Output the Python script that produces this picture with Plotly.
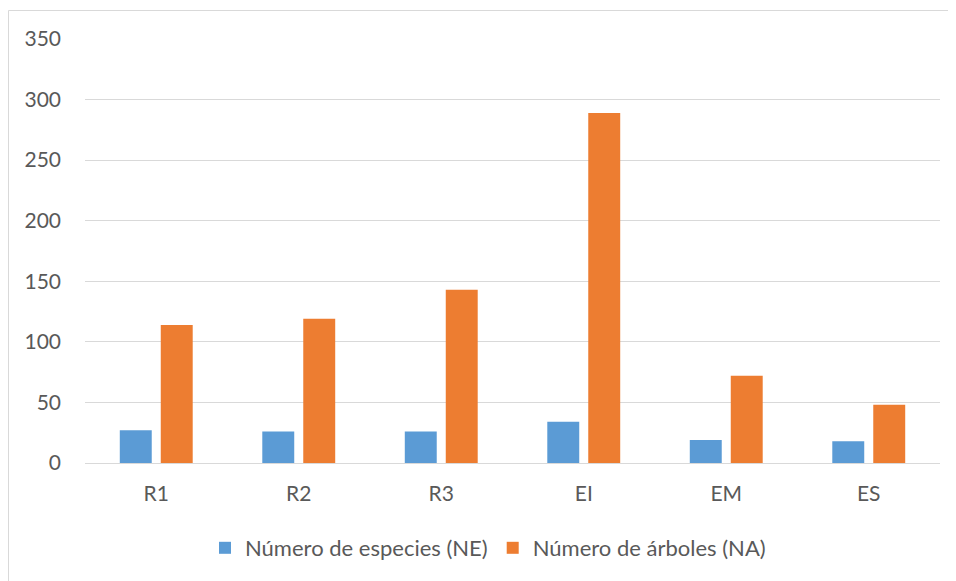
import plotly.graph_objects as go

categories = ["R1", "R2", "R3", "EI", "EM", "ES"]
ne_values = [27, 26, 26, 34, 19, 18]
na_values = [114, 119, 143, 289, 72, 48]
series_names = ["Número de especies (NE)", "Número de árboles (NA)"]
y_ticks = [0, 50, 100, 150, 200, 250, 300, 350]

W, H = 956, 581
OFF = 8  # page body margin
# target screen plot area: x 85..940, y 39..463
L, T = 85 - OFF, 39 - OFF
R, B = W - (940 - OFF), H - (463 - OFF)
pw, ph = W - L - R, H - T - B

def px_x(x):
    return (x - OFF - L) / pw

def px_y(y):
    return (H - B - (y - OFF)) / ph

font_fam = "Lato, 'Open Sans', sans-serif"
gray = "#595959"
fs = 21

fig = go.Figure()
fig.add_trace(go.Bar(x=categories, y=ne_values, name=series_names[0],
                     marker=dict(color="#5b9bd5", line=dict(width=0))))
fig.add_trace(go.Bar(x=categories, y=na_values, name=series_names[1],
                     marker=dict(color="#ed7d31", line=dict(width=0))))

fig.update_layout(
    width=W, height=H,
    margin=dict(l=L, r=R, t=T, b=B),
    paper_bgcolor="white", plot_bgcolor="white",
    barmode="group", bargap=0.425, bargroupgap=0.22,
    font=dict(family=font_fam, size=fs, color=gray),
    showlegend=True,
    legend=dict(orientation="h", x=px_x(488), xanchor="center",
                y=px_y(548), yanchor="middle",
                font=dict(family=font_fam, size=22, color=gray),
                itemsizing="constant", traceorder="normal",
                itemwidth=30),
    xaxis=dict(showgrid=False, showline=True, linecolor="#d9d9d9", linewidth=1,
               ticks="", ticklabelstandoff=12,
               tickfont=dict(family=font_fam, size=fs, color=gray)),
    yaxis=dict(range=[0, 350], tickvals=y_ticks, showgrid=True,
               gridcolor="#d9d9d9", gridwidth=1, zeroline=False,
               showline=False, ticks="", ticklabelstandoff=23,
               tickfont=dict(family=font_fam, size=fs, color=gray)),
    shapes=[
        dict(type="line", xref="paper", yref="paper",
             x0=px_x(8.5), x1=px_x(8.5), y0=px_y(600), y1=px_y(10.5),
             line=dict(color="#d9d9d9", width=1)),
        dict(type="line", xref="paper", yref="paper",
             x0=px_x(8.5), x1=px_x(980), y0=px_y(10.5), y1=px_y(10.5),
             line=dict(color="#d9d9d9", width=1)),
    ],
)

fig.write_html("out.html")
